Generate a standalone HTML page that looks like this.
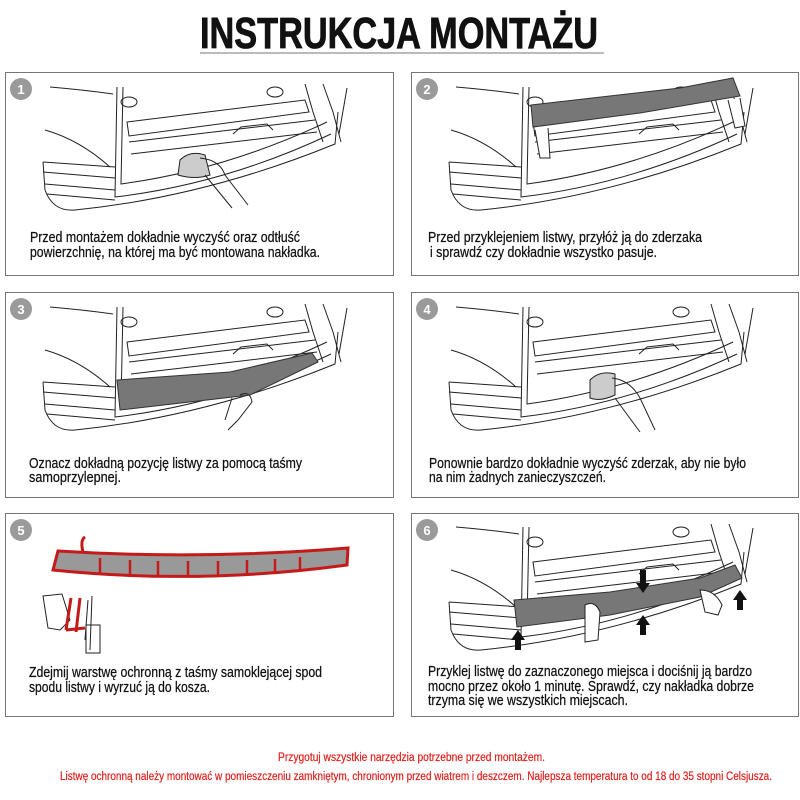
<!DOCTYPE html>
<html><head><meta charset="utf-8"><style>
html,body{margin:0;padding:0;background:#fff;}
svg{display:block;}
text{font-family:"Liberation Sans",sans-serif;}
</style></head><body>
<svg width="800" height="800" viewBox="0 0 800 800" xmlns="http://www.w3.org/2000/svg">
<defs>
<g id="car" fill="none" stroke="#222" stroke-width="1">
<path d="M45,15 Q80,18 108,22"/>
<path d="M40,58 Q75,68 105,95"/>
<path d="M38,90 L110,95 M38,100 L110,106 M40,112 L110,118 M42,122 L110,128"/>
<path d="M38,90 L40,118 Q48,140 70,138 Q200,125 330,72 L333,40"/>
<path d="M112,15 L110,125 Q220,112 326,62"/>
<path d="M118,15 L116,112 Q220,98 322,50"/>
<path d="M122,50 L300,28 L304,40 L124,64 Z"/>
<path d="M124,70 L310,48 M126,82 L312,60"/>
<path d="M228,62 L236,55 L262,52 L268,58"/>
<path d="M300,12 L308,40 L318,70 M318,12 L328,40 L336,70 M342,16 L334,62"/>
<ellipse cx="124" cy="30" rx="8" ry="5"/>
<ellipse cx="270" cy="20" rx="8" ry="5"/>
</g>
<g id="num"><circle r="11" fill="#9a9a9a"/></g>
</defs>

<text x="200" y="48" font-size="44" font-weight="bold" textLength="398" lengthAdjust="spacingAndGlyphs" fill="#111" stroke="#111" stroke-width="0.8">INSTRUKCJA MONTAŻU</text>
<line x1="200" y1="53" x2="604" y2="53" stroke="#777" stroke-width="1"/>

<g fill="none" stroke="#777" stroke-width="1">
<rect x="5.5" y="72.5" width="388" height="203"/>
<rect x="411.5" y="72.5" width="387" height="203"/>
<rect x="5.5" y="292.5" width="388" height="205"/>
<rect x="411.5" y="292.5" width="387" height="205"/>
<rect x="5.5" y="513.5" width="388" height="203"/>
<rect x="411.5" y="513.5" width="387" height="203"/>
</g>

<g font-size="13" font-weight="bold" fill="#fff" text-anchor="middle">
<use href="#num" x="21" y="89"/><text x="21" y="94">1</text>
<use href="#num" x="427" y="89"/><text x="427" y="94">2</text>
<use href="#num" x="21" y="309"/><text x="21" y="314">3</text>
<use href="#num" x="427" y="309"/><text x="427" y="314">4</text>
<use href="#num" x="21" y="530"/><text x="21" y="535">5</text>
<use href="#num" x="427" y="530"/><text x="427" y="535">6</text>
</g>

<use href="#car" x="5" y="72"/>
<path d="M180,160 Q190,150 205,155 L210,175 Q195,180 178,175 Z" fill="#ccc" stroke="#222"/>
<path d="M200,158 Q220,160 225,175 L248,205 M205,175 L232,208" fill="none" stroke="#222"/>

<use href="#car" x="411" y="72"/>
<path d="M531,105 L680,88 L733,78 L740,96 L640,113 L533,127 Z" fill="#777" stroke="#333"/>
<path d="M535,130 L540,158 L550,158 L548,128 M728,100 L735,128 L745,126 L740,98" fill="#fff" stroke="#222"/>

<use href="#car" x="5" y="292"/>
<path d="M117,380 L230,372 L312,353 L318,362 L250,395 L120,410 Z" fill="#777" stroke="#333"/>
<path d="M240,395 Q250,390 252,402 L238,420 L228,430 M232,398 L225,420" fill="none" stroke="#222"/>

<use href="#car" x="411" y="292"/>
<path d="M590,380 Q600,370 615,374 L615,395 Q600,402 590,398 Z" fill="#ccc" stroke="#222"/>
<path d="M612,378 Q630,380 640,398 L655,430 M615,398 L640,432" fill="none" stroke="#222"/>

<path d="M58,551 Q200,560 348,548 L347,565 Q200,585 53,570 Z" fill="#999" stroke="#c41a1a" stroke-width="3"/>
<path d="M83,552 Q80,540 85,537" fill="none" stroke="#c41a1a" stroke-width="3"/>
<g stroke="#c41a1a" stroke-width="2.5">
<line x1="100" y1="558" x2="100" y2="573"/><line x1="130" y1="560" x2="130" y2="575"/><line x1="158" y1="561" x2="158" y2="576"/>
<line x1="188" y1="561" x2="188" y2="577"/><line x1="218" y1="561" x2="218" y2="576"/><line x1="247" y1="560" x2="247" y2="575"/>
<line x1="275" y1="559" x2="275" y2="574"/><line x1="300" y1="557" x2="300" y2="571"/>
</g>
<g fill="none" stroke="#222">
<path d="M43,596 L62,594 L70,620 L60,630 L48,628 Z"/>
<path d="M88,600 L85,640 M92,596 L90,650"/>
<rect x="86" y="625" width="14" height="28"/>
</g>
<g stroke="#c41a1a" stroke-width="3"><line x1="71" y1="598" x2="66" y2="630"/><line x1="80" y1="598" x2="76" y2="632"/><line x1="66" y1="630" x2="85" y2="628"/></g>

<use href="#car" x="411" y="512"/>
<path d="M514,600 L610,592 L700,578 L735,565 L742,578 L700,597 L610,615 L517,627 Z" fill="#777" stroke="#333"/>
<g fill="#111">
<polygon points="515,630 521,630 521,640 525,640 518,650 511,640 515,640" transform="rotate(180 518 640)"/>
<polygon points="640,615 646,615 646,625 650,625 643,635 636,625 640,625" transform="rotate(180 643 625)"/>
<polygon points="737,590 743,590 743,600 747,600 740,610 733,600 737,600" transform="rotate(180 740 600)"/>
<polygon points="640,570 646,570 646,583 650,583 643,593 636,583 640,583"/>
</g>
<path d="M585,605 Q595,600 600,612 L598,640 L585,642 Z M700,590 Q715,590 722,605 L718,615 L705,612 Z" fill="#fff" stroke="#222"/>

<g font-size="15" fill="#111" stroke="#111" stroke-width="0.25">
<text x="30" y="242" textLength="270" lengthAdjust="spacingAndGlyphs">Przed montażem dokładnie wyczyść oraz odtłuść</text>
<text x="30" y="257" textLength="290" lengthAdjust="spacingAndGlyphs">powierzchnię, na której ma być montowana nakładka.</text>
<text x="428" y="242" textLength="274" lengthAdjust="spacingAndGlyphs">Przed przyklejeniem listwy, przyłóż ją do zderzaka</text>
<text x="430" y="257" textLength="227" lengthAdjust="spacingAndGlyphs">i sprawdź czy dokładnie wszystko pasuje.</text>
<text x="29" y="468" textLength="273" lengthAdjust="spacingAndGlyphs">Oznacz dokładną pozycję listwy za pomocą taśmy</text>
<text x="29" y="482" textLength="92" lengthAdjust="spacingAndGlyphs">samoprzylepnej.</text>
<text x="429" y="468" textLength="317" lengthAdjust="spacingAndGlyphs">Ponownie bardzo dokładnie wyczyść zderzak, aby nie było</text>
<text x="429" y="482" textLength="177" lengthAdjust="spacingAndGlyphs">na nim żadnych zanieczyszczeń.</text>
<text x="29" y="677" textLength="293" lengthAdjust="spacingAndGlyphs">Zdejmij warstwę ochronną z taśmy samoklejącej spod</text>
<text x="29" y="692" textLength="181" lengthAdjust="spacingAndGlyphs">spodu listwy i wyrzuć ją do kosza.</text>
<text x="428" y="676" textLength="324" lengthAdjust="spacingAndGlyphs">Przyklej listwę do zaznaczonego miejsca i dociśnij ją bardzo</text>
<text x="428" y="691" textLength="326" lengthAdjust="spacingAndGlyphs">mocno przez około 1 minutę. Sprawdź, czy nakładka dobrze</text>
<text x="428" y="705" textLength="200" lengthAdjust="spacingAndGlyphs">trzyma się we wszystkich miejscach.</text>
</g>
<g font-size="11.5" fill="#e0201c" stroke="#e0201c" stroke-width="0.2">
<text x="278" y="761" textLength="267" lengthAdjust="spacingAndGlyphs">Przygotuj wszystkie narzędzia potrzebne przed montażem.</text>
<text x="60" y="780" textLength="712" lengthAdjust="spacingAndGlyphs">Listwę ochronną należy montować w pomieszczeniu zamkniętym, chronionym przed wiatrem i deszczem. Najlepsza temperatura to od 18 do 35 stopni Celsjusza.</text>
</g>
</svg>
</body></html>
